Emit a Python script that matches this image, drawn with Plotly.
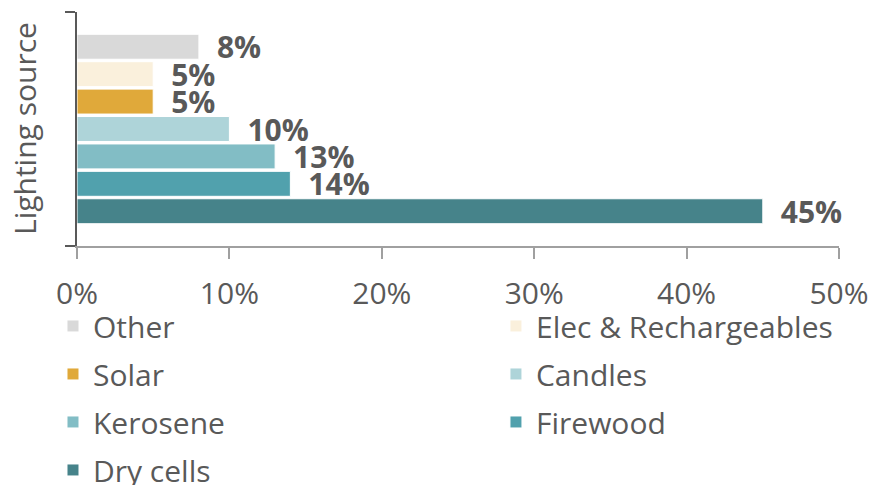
import plotly.graph_objects as go

category = ["Lighting source"]
series_names = ["Other", "Elec & Rechargeables", "Solar", "Candles", "Kerosene", "Firewood", "Dry cells"]
series_values = [0.08, 0.05, 0.05, 0.10, 0.13, 0.14, 0.45]
series_colors = ["#D9D9D9", "#FAF0DC", "#E0A93A", "#AED4D9", "#82BDC5", "#51A1AD", "#46838A"]
legend_column = ["legend", "legend2", "legend", "legend2", "legend", "legend2", "legend"]
x_ticks = [0, 0.1, 0.2, 0.3, 0.4, 0.5]
y_title = "Lighting source"

FONT = "Open Sans"
TXT = "#595959"
FS = 30

fig = go.Figure()
for name, val, col, lg in zip(series_names, series_values, series_colors, legend_column):
    fig.add_trace(go.Bar(
        name=name, y=category, x=[val], orientation="h",
        marker=dict(color=col, line=dict(color="white", width=1)),
        text=["\u2002" + f"{val:.0%}"], textposition="outside",
        textfont=dict(family=FONT, size=FS, color=TXT, weight="bold"),
        constraintext="none", cliponaxis=False,
        legend=lg, legendgroup=name,
    ))

leg_common = dict(
    orientation="v", xref="container", yref="container",
    yanchor="top", xanchor="left",
    font=dict(family=FONT, size=FS, color=TXT),
    tracegroupgap=6, bgcolor="rgba(0,0,0,0)",
)

fig.update_layout(
    width=877, height=485,
    margin=dict(l=69, r=46, t=4, b=247, autoexpand=False),
    paper_bgcolor="white", plot_bgcolor="white",
    barmode="group", bargap=0.18, bargroupgap=0.09,
    font=dict(family=FONT, size=FS, color=TXT),
    showlegend=True,
    legend=dict(x=0.0513, y=0.398, **leg_common),
    legend2=dict(x=0.5564, y=0.398, **leg_common),
    annotations=[dict(
        text=y_title, textangle=-90, showarrow=False,
        xref="paper", yref="paper", x=0, y=0.5,
        xanchor="center", yanchor="middle", xshift=-53,
        font=dict(family=FONT, size=FS, color=TXT),
    )],
)
fig.update_xaxes(
    range=[0, 0.5], tickvals=x_ticks, tickformat=".0%", tickangle=0,
    showgrid=False, zeroline=False, automargin=False,
    showline=True, linecolor="#A0A0A0", linewidth=2,
    ticks="outside", ticklen=11, tickcolor="#A0A0A0", tickwidth=2,
    ticklabelstandoff=9,
    tickfont=dict(family=FONT, size=FS, color=TXT),
)
fig.update_yaxes(
    type="category", range=[0.5, -0.5],
    showticklabels=False, tickson="boundaries", automargin=False,
    showline=True, linecolor="#595959", linewidth=2,
    ticks="outside", ticklen=10, tickcolor="#595959", tickwidth=2,
    showgrid=False, zeroline=False,
)

fig.write_html("out.html")
